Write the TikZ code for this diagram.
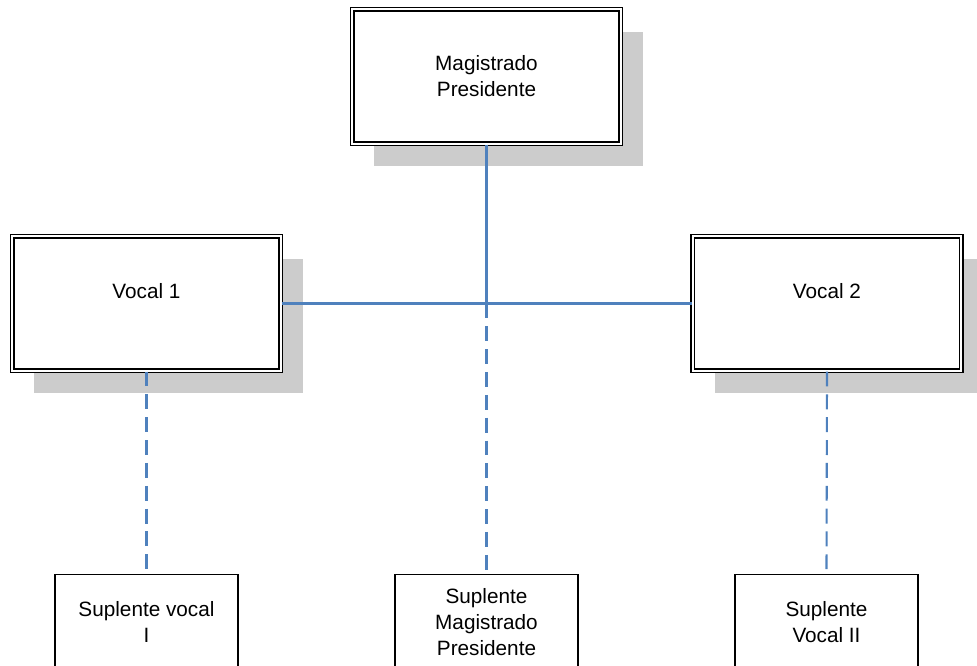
\documentclass[tikz,border=0pt]{standalone}
\usepackage{fontspec}
\setmainfont{Liberation Sans}
\usetikzlibrary{positioning,shadows}
\definecolor{linkblue}{RGB}{79,129,189}

\begin{document}
\begin{tikzpicture}[
        member/.style={rectangle, draw=black, fill=white, line width=0.9pt, double=white, double distance=1.1pt, minimum width=5.37cm, minimum height=2.69cm, align=center, font=\fontsize{11.8}{14.7}\selectfont, drop shadow={shadow xshift=0.44cm, shadow yshift=-0.45cm, opacity=1, fill=black!20}},
        deputy/.style={rectangle, draw=black, line width=0.85pt, fill=white, minimum width=3.66cm, minimum height=1.9cm, align=center, font=\fontsize{11.8}{14.7}\selectfont},
        link/.style={draw=linkblue, line width=1.2pt},
        reserve/.style={draw=linkblue, line width=1.2pt, dash pattern=on 8.5pt off 4.5pt}
    ]
    \useasboundingbox (0,0) rectangle (19.54,13.32);

    % Top - presiding judge
    \node[member] (mp) at (9.73,11.79) {Magistrado\\Presidente};

    % Middle - the two members
    \node[member] (v1) at (2.93,7.25) {Vocal 1\\\mbox{}};
    \node[member] (v2) at (16.54,7.25) {Vocal 2\\\mbox{}};

    % Bottom - substitutes
    \node[deputy, anchor=north] (sv1) at (2.93,1.84) {Suplente vocal\\I};
    \node[deputy, anchor=north] (smp) at (9.73,1.84) {Suplente\\Magistrado\\Presidente};
    \node[deputy, anchor=north] (sv2) at (16.53,1.84) {Suplente\\Vocal II};

    % Solid lines
    \coordinate (hub) at (mp.south |- v1.east);
    \draw[link] (mp.south) -- (hub);
    \draw[link] (v1.east) -- (v2.west);

    % Dashed lines to substitutes
    \draw[reserve] (hub) -- (smp.north);
    \draw[reserve] (v1.south) -- (sv1.north);
    \draw[reserve] (v2.south) -- (sv2.north);

\end{tikzpicture}
\end{document}
